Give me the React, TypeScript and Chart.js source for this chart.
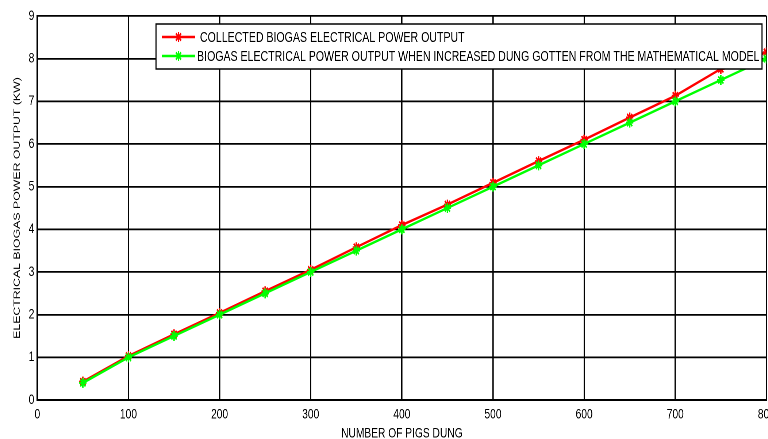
import React, { useEffect, useRef } from "react";
import { Chart, registerables } from "chart.js";

Chart.register(...registerables);

// ---------- data ----------
const pigsDung = [50, 100, 150, 200, 250, 300, 350, 400, 450, 500, 550, 600, 650, 700, 750, 800];
const collectedPower = [0.43, 1.03, 1.54, 2.04, 2.55, 3.05, 3.58, 4.1, 4.58, 5.09, 5.6, 6.1, 6.62, 7.13, 7.76, 8.15];
const modelPower = [0.4, 1.0, 1.5, 2.0, 2.5, 3.0, 3.5, 4.0, 4.5, 5.0, 5.5, 6.0, 6.5, 7.0, 7.5, 8.0];
const seriesLabels = [
  " COLLECTED BIOGAS ELECTRICAL POWER OUTPUT",
  "BIOGAS ELECTRICAL POWER OUTPUT WHEN INCREASED DUNG GOTTEN FROM THE MATHEMATICAL MODEL",
];
const seriesColors = ["#ff0000", "#00ff00"];
const xTitle = "NUMBER OF PIGS DUNG";
const yTitle = "ELECTRICAL BIOGAS POWER OUTPUT (KW)";
const xRange = [0, 800];
const yRange = [0, 9];

// ---------- layout ----------
const SX = 0.73; // horizontal squeeze of the original figure
const VIEW_W = 768;
const VIEW_H = 439;
const CANVAS_W = Math.round(800 / SX);
const FONT = "'Liberation Sans', Arial, Helvetica, sans-serif";
const PLOT_LEFT = 37.3 / SX;
const PLOT_RIGHT = 766.4 / SX;
const PLOT_TOP = 16;
const PLOT_BOTTOM = 400;

function drawStar(ctx: CanvasRenderingContext2D, x: number, y: number, r: number) {
  ctx.beginPath();
  ctx.moveTo(x - r, y);
  ctx.lineTo(x + r, y);
  ctx.moveTo(x, y - r);
  ctx.lineTo(x, y + r);
  const d = r * Math.SQRT1_2;
  ctx.moveTo(x - d, y - d);
  ctx.lineTo(x + d, y + d);
  ctx.moveTo(x - d, y + d);
  ctx.lineTo(x + d, y - d);
  ctx.stroke();
}

const legendBoxPlugin = {
  id: "legendBoxPlugin",
  afterDraw(chart: any) {
    const ctx: CanvasRenderingContext2D = chart.ctx;
    const left = 156 / SX;
    const right = 762 / SX;
    const top = 24;
    const bottom = 69;
    ctx.save();
    ctx.fillStyle = "#ffffff";
    ctx.fillRect(left, top, right - left, bottom - top);
    ctx.strokeStyle = "#000000";
    ctx.lineWidth = 1.5;
    ctx.strokeRect(left, top, right - left, bottom - top);
    const rows = [37, 56];
    chart.data.datasets.forEach((ds: any, i: number) => {
      const y = rows[i];
      const x0 = 162 / SX;
      const x1 = 195 / SX;
      ctx.strokeStyle = ds.borderColor;
      ctx.lineWidth = 2.5;
      ctx.beginPath();
      ctx.moveTo(x0, y);
      ctx.lineTo(x1, y);
      ctx.stroke();
      ctx.lineWidth = 2;
      drawStar(ctx, (x0 + x1) / 2, y, 5);
      ctx.fillStyle = "#000000";
      ctx.font = `14.5px ${FONT}`;
      ctx.textBaseline = "middle";
      ctx.textAlign = "left";
      ctx.fillText(ds.label, 197 / SX, y + 1);
    });
    ctx.restore();
  },
};

export default function App() {
  const canvasRef = useRef<HTMLCanvasElement | null>(null);

  useEffect(() => {
    document.body.style.margin = "0";
    const canvas = canvasRef.current;
    if (!canvas) return;
    const makeData = (ys: number[]) => pigsDung.map((x, i) => ({ x, y: ys[i] }));
    const chart = new Chart(canvas, {
      type: "line",
      data: {
        datasets: [
          {
            label: seriesLabels[0],
            data: makeData(collectedPower),
            borderColor: seriesColors[0],
            backgroundColor: seriesColors[0],
            borderWidth: 2.5,
            pointStyle: "star",
            pointRadius: 5,
            pointBorderWidth: 2,
            pointBorderColor: seriesColors[0],
            tension: 0,
            order: 1,
          },
          {
            label: seriesLabels[1],
            data: makeData(modelPower),
            borderColor: seriesColors[1],
            backgroundColor: seriesColors[1],
            borderWidth: 2.5,
            pointStyle: "star",
            pointRadius: 5,
            pointBorderWidth: 2,
            pointBorderColor: seriesColors[1],
            tension: 0,
            order: 0,
          },
        ],
      },
      options: {
        responsive: false,
        animation: false,
        devicePixelRatio: 2,
        layout: {
          padding: { left: 0, top: PLOT_TOP, right: CANVAS_W - PLOT_RIGHT, bottom: 0 },
        },
        plugins: {
          legend: { display: false },
          tooltip: { enabled: false },
        },
        scales: {
          x: {
            type: "linear",
            min: xRange[0],
            max: xRange[1],
            afterFit: (s: any) => {
              s.height = VIEW_H - PLOT_BOTTOM;
            },
            ticks: {
              stepSize: 100,
              color: "#000",
              padding: 6,
              maxRotation: 0,
              font: { family: FONT, size: 14 },
            },
            grid: { color: "#000", lineWidth: 1.8, drawTicks: false },
            border: { color: "#000", width: 2 },
            title: {
              display: true,
              text: xTitle,
              color: "#000",
              font: { family: FONT, size: 14, lineHeight: 0.8 },
              padding: { top: 0, bottom: 0 },
            },
          },
          y: {
            type: "linear",
            min: yRange[0],
            max: yRange[1],
            afterFit: (s: any) => {
              s.width = PLOT_LEFT;
            },
            ticks: {
              stepSize: 1,
              color: "#000",
              padding: 4,
              font: { family: FONT, size: 14 },
            },
            grid: { color: "#000", lineWidth: 1.8, drawTicks: false },
            border: { color: "#000", width: 2 },
            title: {
              display: true,
              text: yTitle,
              color: "#000",
              font: { family: FONT, size: 12.3, lineHeight: 1.2 },
              padding: { top: 16, bottom: 0 },
            },
          },
        },
      },
      plugins: [legendBoxPlugin],
    });
    return () => chart.destroy();
  }, []);

  return (
    <div
      style={{
        position: "fixed",
        left: 0,
        top: 0,
        width: VIEW_W,
        height: VIEW_H,
        overflow: "hidden",
        background: "#fff",
      }}
    >
      <div style={{ width: CANVAS_W, height: VIEW_H, transform: `scaleX(${SX})`, transformOrigin: "0 0" }}>
        <canvas
          ref={canvasRef}
          width={CANVAS_W}
          height={VIEW_H}
          style={{ width: `${CANVAS_W}px`, height: `${VIEW_H}px`, display: "block" }}
        />
      </div>
    </div>
  );
}
